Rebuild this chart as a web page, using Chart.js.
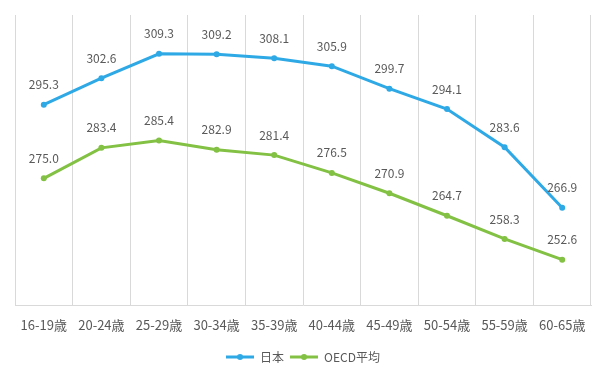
<!DOCTYPE html>
<html><head><meta charset="utf-8">
<script src="https://cdn.jsdelivr.net/npm/chart.js@4"></script>
<style>html,body{margin:0;padding:0;background:#fff}#wrap{width:605px;height:378px}</style>
</head><body><div id="wrap"><canvas id="c"></canvas></div>
<script>
const categories = ["16-19歳","20-24歳","25-29歳","30-34歳","35-39歳","40-44歳","45-49歳","50-54歳","55-59歳","60-65歳"];
const japan = [295.3,302.6,309.3,309.2,308.1,305.9,299.7,294.1,283.6,266.9];
const oecd = [275.0,283.4,285.4,282.9,281.4,276.5,270.9,264.7,258.3,252.6];
const seriesNames = ["日本","OECD平均"];
const colors = ["#2FA9E6","#82C143"];
const FONT = '"Noto Sans CJK JP", "Noto Sans", sans-serif';
const TXT = "#595959";

function legendIcon(color){
  const cv = document.createElement('canvas');
  cv.width = 28; cv.height = 8;
  const x = cv.getContext('2d');
  x.strokeStyle = color; x.lineWidth = 3;
  x.beginPath(); x.moveTo(0,4); x.lineTo(28,4); x.stroke();
  x.fillStyle = color; x.beginPath(); x.arc(14,4,3,0,Math.PI*2); x.fill();
  return cv;
}

const labelPlugin = {
  id:'valLabels',
  afterDatasetsDraw(chart){
    const ctx = chart.ctx;
    ctx.save();
    ctx.font = '12px ' + FONT;
    ctx.fillStyle = TXT;
    ctx.textAlign = 'center';
    ctx.textBaseline = 'middle';
    chart.data.datasets.forEach((ds,i)=>{
      chart.getDatasetMeta(i).data.forEach((pt,j)=>{
        ctx.fillText(ds.data[j].toFixed(1), pt.x, pt.y - 20);
      });
    });
    ctx.restore();
  }
};

new Chart(document.getElementById('c'), {
  type:'line',
  data:{
    labels: categories,
    datasets:[
      {label:seriesNames[0], data:japan, borderColor:colors[0], backgroundColor:colors[0], borderWidth:3, pointRadius:3, pointBorderWidth:0, pointHoverRadius:3, pointStyle:'circle', tension:0},
      {label:seriesNames[1], data:oecd, borderColor:colors[1], backgroundColor:colors[1], borderWidth:3, pointRadius:3, pointBorderWidth:0, pointHoverRadius:3, pointStyle:'circle', tension:0}
    ]
  },
  options:{
    responsive:true, maintainAspectRatio:false, animation:false,
    layout:{padding:{left:15,right:14,top:15,bottom:5}},
    scales:{
      x:{
        offset:true,
        grid:{offset:true, color:'#D9D9D9', lineWidth:1, drawTicks:false},
        border:{display:true, color:'#D9D9D9', width:1},
        ticks:{color:TXT, font:{family:FONT, size:13}, padding:12, maxRotation:0, autoSkip:false}
      },
      y:{display:false, min:240, max:320}
    },
    plugins:{
      legend:{
        position:'bottom',
        labels:{
          color:TXT, font:{family:FONT, size:12}, usePointStyle:true, pointStyleWidth:28, padding:6,
          generateLabels(chart){
            return chart.data.datasets.map((ds,i)=>({
              text: ds.label, fillStyle: ds.borderColor, strokeStyle: ds.borderColor,
              pointStyle: legendIcon(ds.borderColor), datasetIndex:i, hidden:false, fontColor:TXT
            }));
          }
        }
      },
      tooltip:{enabled:false}
    }
  },
  plugins:[labelPlugin]
});
</script></body></html>
